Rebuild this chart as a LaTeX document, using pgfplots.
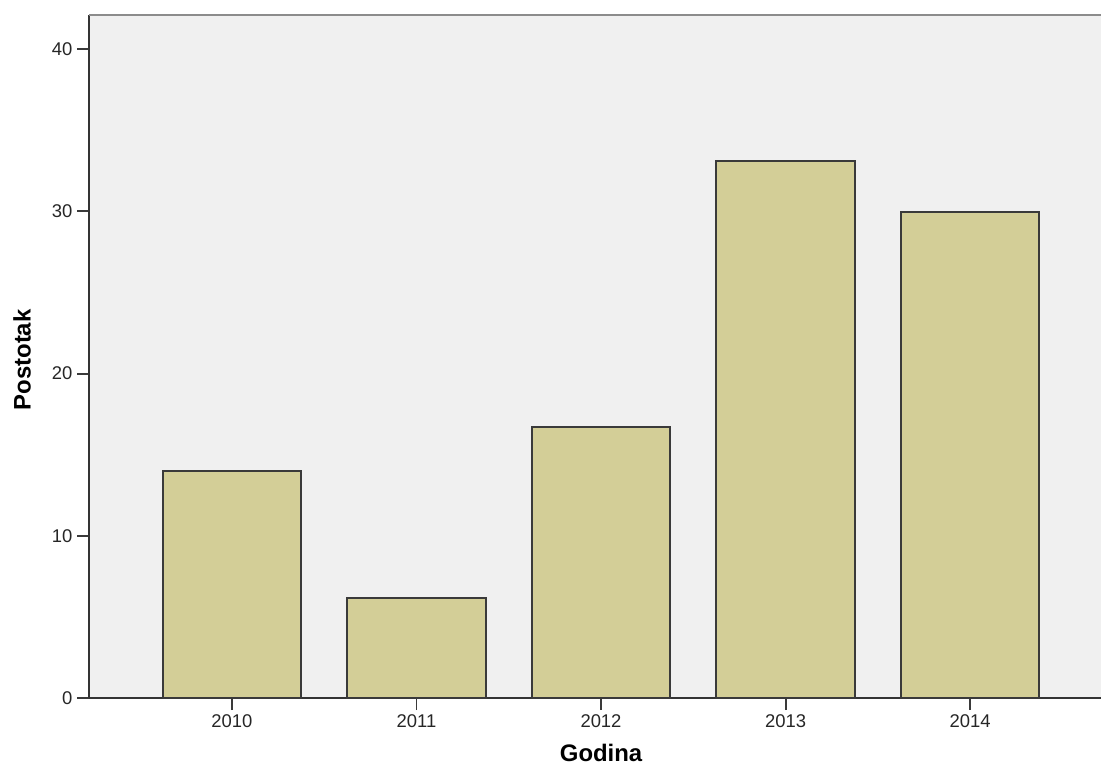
\documentclass[border=0pt]{standalone}
\usepackage{pgfplots}
\pgfplotsset{compat=1.18}
\usepackage{fontspec}
\setmainfont{Liberation Sans}
\definecolor{bgc}{HTML}{F0F0F0}
\definecolor{barc}{HTML}{D3CE97}
\definecolor{edgec}{HTML}{3A3A3A}
\begin{document}
\begin{tikzpicture}
\path[use as bounding box] (0,0) rectangle (1101bp,767bp);
\begin{axis}[
  at={(89bp,69bp)}, anchor=south west,
  width=1012bp, height=683bp, scale only axis,
  xmin=-0.775, xmax=4.71, ymin=0, ymax=42.1,
  axis x line*=bottom, axis y line*=left,
  axis line style={line width=2pt, color=edgec!90!black},
  axis background/.style={fill=bgc},
  xtick={0,1,2,3,4}, xticklabels={2010,2011,2012,2013,2014},
  ytick={0,10,20,30,40},
  tick align=outside, major tick length=12bp,
  major tick style={line width=2pt, color=edgec},
  /pgf/number format/assume math mode=true,
  ticklabel style={font=\fontsize{18.5}{22}\selectfont, color=black!85},
  yticklabel style={xshift=-1bp},
  xticklabel style={yshift=-1bp},
  xlabel={Godina}, ylabel={Postotak},
  label style={font=\bfseries\fontsize{24}{29}\selectfont},
  xlabel style={at={(axis description cs:0.506,-0.093)}, anchor=base},
  ylabel style={at={(axis description cs:-0.0662,0.495)}, anchor=center},
  clip=false,
]
\addplot[ybar, bar width=0.75, fill=barc, draw=edgec, line width=2pt]
  coordinates {(0,14.0) (1,6.16) (2,16.7) (3,33.1) (4,29.95)};
\draw[line width=1.5pt, color=black!45] (rel axis cs:0,1) -- (rel axis cs:1,1);
\end{axis}
\end{tikzpicture}
\end{document}
